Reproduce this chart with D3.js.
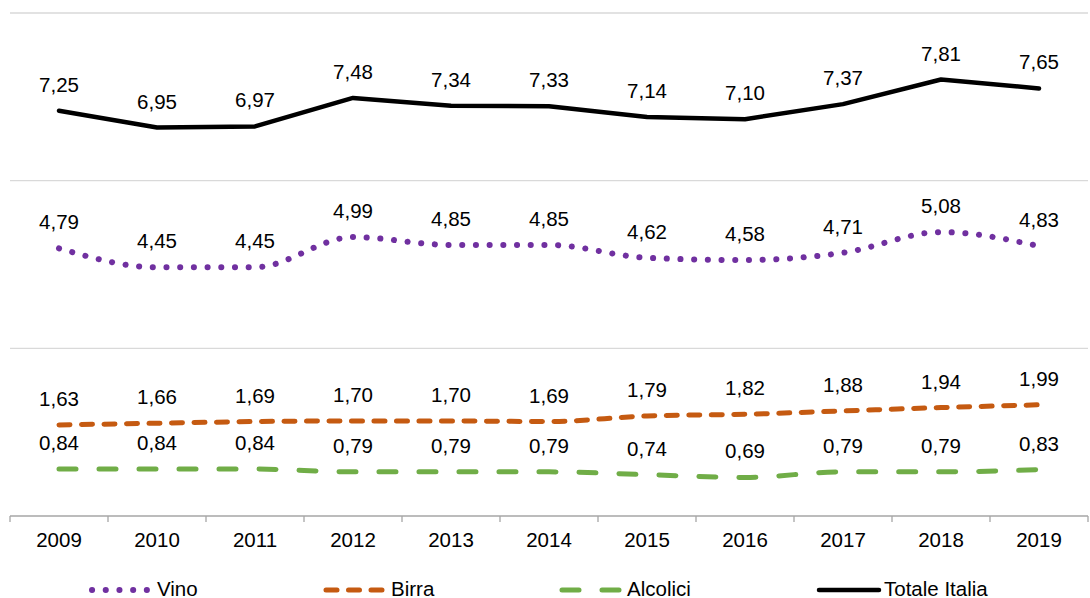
<!DOCTYPE html>
<html>
<head>
<meta charset="utf-8">
<script src="https://cdnjs.cloudflare.com/ajax/libs/d3/7.8.5/d3.min.js"></script>
<style>
  body { margin: 0; background: #fff; }
  text { font-family: "Liberation Sans", Arial, sans-serif; fill: #000; }
</style>
</head>
<body>
<div id="chart"></div>
<script>
////////////////////////////////////////////////////////////////////////////////
// Data
////////////////////////////////////////////////////////////////////////////////
var years = ["2009","2010","2011","2012","2013","2014","2015","2016","2017","2018","2019"];
var vino     = [4.79, 4.45, 4.45, 4.99, 4.85, 4.85, 4.62, 4.58, 4.71, 5.08, 4.83];
var birra    = [1.63, 1.66, 1.69, 1.70, 1.70, 1.69, 1.79, 1.82, 1.88, 1.94, 1.99];
var alcolici = [0.84, 0.84, 0.84, 0.79, 0.79, 0.79, 0.74, 0.69, 0.79, 0.79, 0.83];
var totale   = [7.25, 6.95, 6.97, 7.48, 7.34, 7.33, 7.14, 7.10, 7.37, 7.81, 7.65];
var gridTicks = [0, 3, 6, 9];

var W = 1090, H = 598;
var FONT = "20.5px";

// series styling
var series = [
  { name: "Vino", values: vino, color: "#7030a0", width: 6, dash: "0.1,13.6", curve: d3.curveMonotoneX },
  { name: "Birra", values: birra, color: "#c55a11", width: 5, dash: "11,11.5", curve: d3.curveMonotoneX },
  { name: "Alcolici", values: alcolici, color: "#70ad47", width: 5, dash: "17,23", curve: d3.curveMonotoneX },
  { name: "Totale Italia", values: totale, color: "#000000", width: 4.5, dash: null, curve: d3.curveLinear }
];

var svg = d3.select("#chart").append("svg")
   .attr("width", W)
   .attr("height", H);

var x = d3.scaleBand().domain(years).range([10, 1088]).padding(0);
var y = d3.scaleLinear().domain([0, 9]).range([516, 13]);

// gridlines
svg.append("g")
   .selectAll("line")
   .data(gridTicks.filter(function(d) { return d > 0; }))
   .enter().append("line")
   .attr("x1", 10).attr("x2", 1088)
   .attr("y1", function(d) { return y(d); })
   .attr("y2", function(d) { return y(d); })
   .attr("stroke", "#d9d9d9")
   .attr("stroke-width", 1.3);

// x axis with tick marks between categories
var axis = svg.append("g").attr("transform", "translate(0," + y(0) + ")");
axis.append("line")
   .attr("x1", 10).attr("x2", 1088)
   .attr("stroke", "#a6a6a6").attr("stroke-width", 1.3);
var bounds = years.map(function(d) { return x(d); }).concat([x(years[years.length - 1]) + x.bandwidth()]);
axis.selectAll("line.tk")
   .data(bounds)
   .enter().append("line")
   .attr("class", "tk")
   .attr("x1", function(d) { return d; }).attr("x2", function(d) { return d; })
   .attr("y1", 0).attr("y2", 6)
   .attr("stroke", "#a6a6a6").attr("stroke-width", 1.3);
axis.selectAll("text")
   .data(years)
   .enter().append("text")
   .attr("x", function(d) { return x(d) + x.bandwidth() / 2; })
   .attr("y", 31)
   .attr("text-anchor", "middle")
   .attr("font-size", FONT)
   .text(function(d) { return d; });

// lines
series.forEach(function(s) {
   var line = d3.line()
      .x(function(d, i) { return x(years[i]) + x.bandwidth() / 2; })
      .y(function(d) { return y(d); })
      .curve(s.curve);
   var p = svg.append("path")
      .datum(s.values)
      .attr("d", line)
      .attr("fill", "none")
      .attr("stroke", s.color)
      .attr("stroke-width", s.width)
      .attr("stroke-linecap", "round")
      .attr("stroke-linejoin", "round");
   if (s.dash) p.attr("stroke-dasharray", s.dash);

   // value labels
   svg.append("g")
      .selectAll("text")
      .data(s.values)
      .enter().append("text")
      .attr("x", function(d, i) { return x(years[i]) + x.bandwidth() / 2; })
      .attr("y", function(d) { return y(d) - 19; })
      .attr("text-anchor", "middle")
      .attr("font-size", FONT)
      .text(function(d) { return d.toFixed(2).replace(".", ","); });
});

// legend
var legendX = [92, 326, 562, 819];
var legend = svg.append("g");
series.forEach(function(s, i) {
   var g = legend.append("g").attr("transform", "translate(" + legendX[i] + ",590)");
   var l = g.append("line")
      .attr("x1", 0).attr("x2", 60)
      .attr("stroke", s.color)
      .attr("stroke-width", s.width)
      .attr("stroke-linecap", "round");
   if (s.dash) l.attr("stroke-dasharray", s.dash);
   g.append("text")
      .attr("x", 65)
      .attr("y", 5.5)
      .attr("font-size", FONT)
      .text(s.name);
});
</script>
</body>
</html>
